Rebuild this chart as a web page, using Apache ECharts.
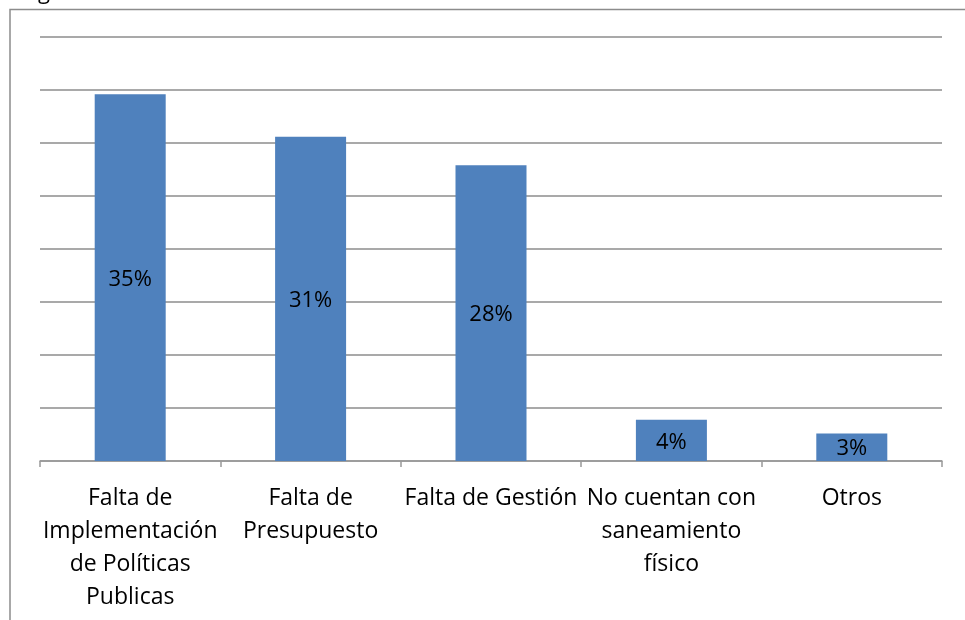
<!DOCTYPE html>
<html>
<head>
<meta charset="utf-8">
<script src="https://cdn.jsdelivr.net/npm/echarts@6/dist/echarts.min.js"></script>
<style>
  html, body { margin: 0; padding: 0; background: #fff; }
  #chart { width: 965px; height: 620px; }
</style>
</head>
<body>
<div id="chart"></div>
<script>
const categories = [
  'Falta de\nImplementación\nde Políticas\nPublicas',
  'Falta de\nPresupuesto',
  'Falta de Gestión',
  'No cuentan con\nsaneamiento\nfísico',
  'Otros'
]
const values = [34.6, 30.6, 27.9, 3.9, 2.6]
const labels = ['35%', '31%', '28%', '4%', '3%']

const chart = echarts.init(document.getElementById('chart'))
chart.setOption({
  animation: false,
  textStyle: { fontFamily: 'Open Sans' },
  grid: { left: 40, right: 23, top: 37, bottom: 159 },
  graphic: [
    // marco del gráfico
    {
      type: 'polyline',
      shape: { points: [[10, 620], [10, 9.5], [965, 9.5]] },
      style: { stroke: '#8c8c8c', lineWidth: 1.5, fill: null }
    },
    // resto del título cortado arriba
    {
      type: 'text',
      left: 38,
      top: -18,
      style: { text: 'g', fontSize: 22, fontFamily: 'Open Sans', fill: '#000' }
    }
  ],
  xAxis: {
    type: 'category',
    data: categories,
    axisLine: { lineStyle: { color: '#999', width: 1.5 } },
    axisTick: { show: true, length: 6, lineStyle: { color: '#999', width: 1.5 } },
    axisLabel: {
      interval: 0,
      hideOverlap: false,
      margin: 21,
      fontSize: 23,
      lineHeight: 33,
      color: '#000'
    }
  },
  yAxis: {
    type: 'value',
    min: 0,
    max: 40,
    interval: 5,
    axisLabel: { show: false },
    axisLine: { show: false },
    axisTick: { show: false },
    splitLine: { lineStyle: { color: '#8c8c8c', width: 1.5 } }
  },
  series: [
    {
      type: 'bar',
      data: values,
      barWidth: 71,
      itemStyle: { color: '#4f81bd' },
      label: {
        show: true,
        position: 'inside',
        offset: [0, 2],
        fontSize: 22,
        color: '#000',
        formatter: (p) => labels[p.dataIndex]
      }
    }
  ]
})
</script>
</body>
</html>
